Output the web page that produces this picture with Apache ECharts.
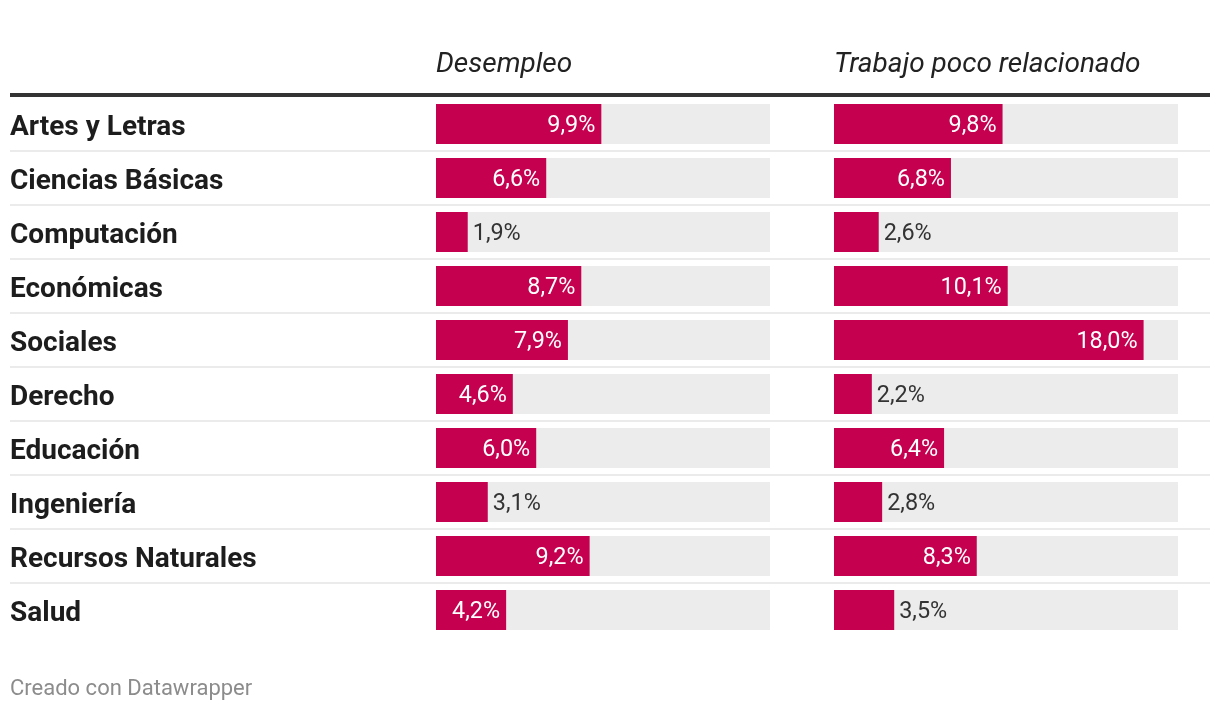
<!DOCTYPE html>
<html>
<head>
<meta charset="utf-8">
<style>
  html, body { margin: 0; padding: 0; background: #ffffff; }
  #chart { width: 1220px; height: 712px; }
</style>
<script src="https://cdn.jsdelivr.net/npm/echarts@6/dist/echarts.min.js"></script>
</head>
<body>
<div id="chart"></div>
<script>
const categories = ['Artes y Letras', 'Ciencias Básicas', 'Computación', 'Económicas', 'Sociales', 'Derecho', 'Educación', 'Ingeniería', 'Recursos Naturales', 'Salud'];
const desempleo = [9.9, 6.6, 1.9, 8.7, 7.9, 4.6, 6.0, 3.1, 9.2, 4.2];
const trabajoPocoRelacionado = [9.8, 6.8, 2.6, 10.1, 18.0, 2.2, 6.4, 2.8, 8.3, 3.5];
const columnTitles = ['Desempleo', 'Trabajo poco relacionado'];
const footerText = 'Creado con Datawrapper';
const axisMax = 20;

const FONT = 'Roboto';
const BAR_COLOR = '#c4004f';
const LEFT_W = 334, RIGHT_W = 344;

function fmt(v) { return v.toFixed(1).replace('.', ',') + '%'; }

function barData(values, gridWidth) {
  return values.map(function (v) {
    const inside = v / axisMax * gridWidth > 64;
    return {
      value: v,
      label: {
        position: inside ? 'insideRight' : 'right',
        color: inside ? '#ffffff' : '#333333',
        distance: inside ? 6 : 5
      }
    };
  });
}

function barSeries(values, idx, gridWidth) {
  return {
    type: 'bar',
    xAxisIndex: idx,
    yAxisIndex: idx,
    data: barData(values, gridWidth),
    barWidth: 40,
    itemStyle: { color: BAR_COLOR },
    showBackground: true,
    backgroundStyle: { color: '#ececec' },
    label: {
      show: true,
      fontFamily: FONT,
      fontSize: 23.4,
      offset: [0, 2.5],
      formatter: function (p) { return fmt(p.value); }
    },
    emphasis: { disabled: true },
    animation: false
  };
}

const chart = echarts.init(document.getElementById('chart'), null, { renderer: 'canvas' });
chart.setOption({
  backgroundColor: '#ffffff',
  animation: false,
  title: [
    { text: columnTitles[0], left: 436, top: 51, padding: 0,
      textStyle: { fontFamily: FONT, fontStyle: 'italic', fontWeight: 'normal', fontSize: 28, color: '#222222' } },
    { text: columnTitles[1], left: 834, top: 51, padding: 0,
      textStyle: { fontFamily: FONT, fontStyle: 'italic', fontWeight: 'normal', fontSize: 28, color: '#222222' } },
    { text: footerText, left: 10, top: 678, padding: 0,
      textStyle: { fontFamily: FONT, fontWeight: 'normal', fontSize: 22, color: '#8c8c8c' } }
  ],
  grid: [
    { left: 10, width: 1200, top: 97, height: 540 },
    { left: 436, width: LEFT_W, top: 97, height: 540 },
    { left: 834, width: RIGHT_W, top: 97, height: 540 }
  ],
  xAxis: [
    { gridIndex: 0, type: 'value', min: 0, max: axisMax, position: 'top', offset: 2,
      axisLine: { show: true, onZero: false, lineStyle: { color: '#333333', width: 4, cap: 'butt' } },
      axisTick: { show: false }, axisLabel: { show: false }, splitLine: { show: false } },
    { gridIndex: 1, type: 'value', min: 0, max: axisMax, show: false },
    { gridIndex: 2, type: 'value', min: 0, max: axisMax, show: false }
  ],
  yAxis: [
    { gridIndex: 0, type: 'category', data: categories, inverse: true,
      axisLine: { show: false }, axisTick: { show: false },
      axisLabel: { show: true, align: 'left', verticalAlign: 'top', lineHeight: 7, margin: 0, fontFamily: FONT, fontWeight: 'bold', fontSize: 28, color: '#1d1d1d' },
      splitLine: { show: true, showMinLine: false, showMaxLine: false, lineStyle: { color: '#ebebeb', width: 2 } } },
    { gridIndex: 1, type: 'category', data: categories, inverse: true, show: false },
    { gridIndex: 2, type: 'category', data: categories, inverse: true, show: false }
  ],
  series: [
    barSeries(desempleo, 1, LEFT_W),
    barSeries(trabajoPocoRelacionado, 2, RIGHT_W)
  ]
});
</script>
</body>
</html>
